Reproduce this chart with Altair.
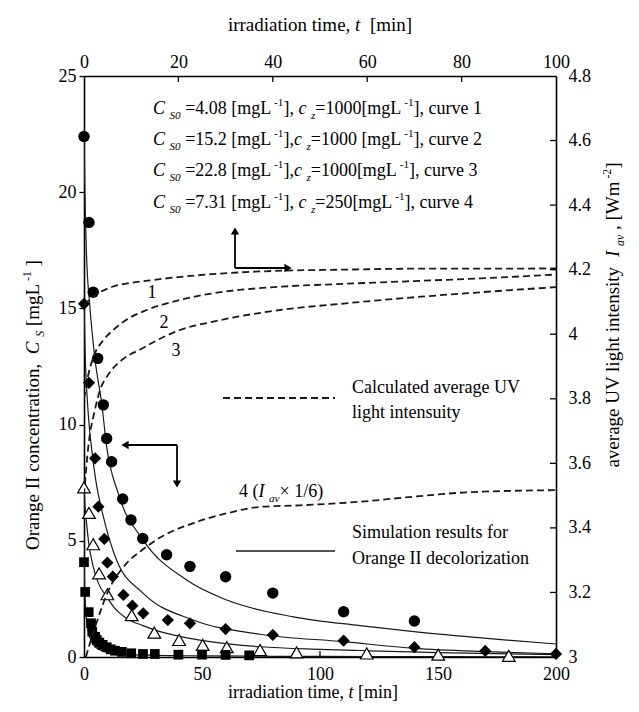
import altair as alt
import pandas as pd

FONT = "Liberation Serif"
W, H = 472, 581          # plot area
OX, OY = 84, 76          # page position of the plot origin

# ---------------- data ----------------
BOTTOM_TICKS = [0, 50, 100, 150, 200]
LEFT_TICKS = [0, 5, 10, 15, 20, 25]
TOP_TICKS = [0, 20, 40, 60, 80, 100]
RIGHT_TICKS = [3, 3.2, 3.4, 3.6, 3.8, 4, 4.2, 4.4, 4.6, 4.8]

# measured Orange II concentrations
circ_t = [0, 2.1, 3.9, 5.8, 8.2, 9.6, 11.7, 16.4, 19.9, 24.9, 35, 44.9, 60, 80, 110, 140]
circ_c = [22.4, 18.7, 15.7, 12.85, 10.85, 9.4, 8.4, 6.8, 5.9, 5.1, 4.4, 3.9, 3.45, 2.75, 1.95, 1.55]
diam_t = [0, 2.1, 4.7, 6.1, 8.6, 9.9, 12.2, 16.7, 20.5, 25.1, 35.5, 44.9, 60, 80, 110, 140, 170, 200]
diam_c = [15.2, 11.8, 8.55, 6.47, 5.08, 4.06, 3.46, 2.67, 2.21, 1.88, 1.59, 1.45, 1.2, 0.95, 0.70, 0.42, 0.26, 0.13]
tri_t = [0, 2.1, 3.9, 6.4, 9.9, 20.2, 29.8, 40.3, 50.3, 60.5, 74.6, 90.1, 119.8, 150.1, 180]
tri_c = [7.3, 6.2, 4.85, 3.6, 2.7, 1.8, 1.05, 0.73, 0.52, 0.42, 0.3, 0.2, 0.15, 0.1, 0.05]
sq_t = [0, 0.5, 2, 3, 3.5, 4.7, 5.4, 6.5, 7.9, 9.6, 11.3, 13.1, 16, 20, 25, 30, 40, 50, 60, 70]
sq_c = [4.08, 2.8, 1.93, 1.45, 1.09, 0.87, 0.73, 0.62, 0.52, 0.42, 0.33, 0.27, 0.22, 0.16, 0.13, 0.13, 0.10, 0.10, 0.09, 0.07]

# simulation curves (solid)
simc_t = [0, 0.3, 1, 2.5, 4.7, 7.5, 9.6, 14.5, 25.1, 43.5, 60.5, 88.7, 117, 139.8, 170.6, 200]
simc_c = [22.8, 20.5, 17.5, 15.07, 12.78, 10.92, 9.05, 7.04, 5.03, 3.31, 2.45, 1.73, 1.35, 1.09, 0.8, 0.56]
simd_t = [0, 0.5, 1, 2, 3.3, 5, 8.2, 13.8, 25.1, 46.3, 74.6, 110, 140, 170, 200]
simd_c = [15.2, 13.0, 11.8, 10.2, 8.9, 7.6, 6.04, 4.17, 2.74, 1.59, 0.98, 0.66, 0.37, 0.23, 0.14]
simt_t = [0, 0.4, 1.1, 2, 3.9, 6, 9.6, 13, 18.1, 25, 32.2, 40, 53.4, 74.6, 100, 117, 150, 200]
simt_c = [7.3, 6.5, 5.75, 4.9, 3.89, 3.2, 2.6, 2.1, 1.66, 1.35, 1.09, 0.9, 0.66, 0.44, 0.33, 0.28, 0.19, 0.1]
sims_t = [0, 0.3, 0.7, 1.2, 2, 3, 4, 6, 8, 11, 15, 20, 30, 50, 80, 120, 200]
sims_c = [4.08, 3.0, 2.1, 1.5, 1.0, 0.7, 0.52, 0.34, 0.25, 0.18, 0.13, 0.1, 0.07, 0.05, 0.03, 0.02, 0.01]

# calculated average UV light intensity (dashed, top / right axes)
c1_t = [0, 1, 3, 6, 9, 13, 20, 27, 40, 55, 70, 85, 100]
c1_v = [4.09, 4.105, 4.127, 4.147, 4.157, 4.165, 4.177, 4.186, 4.196, 4.200, 4.203, 4.203, 4.204]
c2_t = [0, 1, 2, 4, 6.2, 9, 13.3, 20, 27.4, 41.5, 55, 67, 84, 100]
c2_v = [3.80, 3.88, 3.93, 3.98, 4.013, 4.045, 4.075, 4.105, 4.127, 4.147, 4.156, 4.163, 4.173, 4.185]
c3_t = [0, 0.9, 2.3, 3.4, 5.1, 8, 12.2, 16, 20.3, 27.4, 41.5, 55, 67, 84, 100]
c3_v = [3.50, 3.65, 3.765, 3.827, 3.874, 3.92, 3.955, 3.985, 4.013, 4.039, 4.075, 4.095, 4.111, 4.13, 4.146]
c4_t = [0.4, 1, 2.3, 5, 9, 12.2, 16.1, 23.2, 30.2, 37.3, 45.8, 58.5, 70, 81, 100]
c4_v = [3.0, 3.03, 3.09, 3.2, 3.29, 3.33, 3.37, 3.415, 3.445, 3.465, 3.47, 3.481, 3.497, 3.51, 3.517]

# ---------------- text helpers (Times / Liberation Serif metrics) ----------------
REG = {' ': 250, '!': 333, '(': 333, ')': 333, ',': 250, '-': 333, '.': 250, '/': 278, '=': 564,
       '[': 333, ']': 333, '×': 564, 'A': 722, 'C': 667, 'I': 333, 'L': 611, 'O': 722, 'S': 556,
       'U': 722, 'V': 722, 'W': 944, 'a': 444, 'b': 500, 'c': 444, 'd': 500, 'e': 444, 'f': 333,
       'g': 500, 'h': 500, 'i': 278, 'j': 278, 'k': 500, 'l': 278, 'm': 778, 'n': 500, 'o': 500,
       'p': 500, 'q': 500, 'r': 333, 's': 389, 't': 278, 'u': 500, 'v': 500, 'w': 722, 'x': 500,
       'y': 500, 'z': 444}
ITA = {'C': 667, 'I': 333, 'S': 500, 'a': 500, 'c': 444, 't': 278, 'v': 444, 'z': 389}


def tw(s, italic=False):
    tot = 0
    for ch in s:
        if italic and ch in ITA:
            tot += ITA[ch]
        else:
            tot += REG.get(ch, 500)
    return tot / 1000.0


def seg_rows(x0, y0, fs, segs, angle=0, align='left'):
    items, total = [], 0.0
    for txt, kind in segs:
        size = fs * 0.62 if kind in ('sb', 'sp') else fs
        italic = kind in ('i', 'sb')
        items.append((txt, kind, size, italic, total))
        total += tw(txt, italic) * size
    start = -total / 2 if align == 'center' else 0.0
    rows = []
    for txt, kind, size, italic, off in items:
        lead = len(txt) - len(txt.lstrip(' '))
        off += tw(' ' * lead) * size
        txt = txt.strip(' ')
        if not txt:
            continue
        shift = 0.25 * fs if kind == 'sb' else (-0.42 * fs if kind == 'sp' else 0.0)
        a = start + off
        if angle == 0:
            px, py = x0 + a, y0 + shift
        else:
            px, py = x0 + shift, y0 - a
        rows.append(dict(x=px - OX, y=py - OY, text=txt, size=size, it=italic, angle=angle))
    return rows


def legend_line(val, sep, cz, curve):
    return [("C", 'i'), (" ", 'n'), ("S0", 'sb'), (" =" + val + " [mgL", 'n'), (" -1", 'sp'),
            ("]" + sep, 'n'), ("c", 'i'), (" ", 'n'), ("z", 'sb'), ("=" + cz + "[mgL", 'n'),
            (" -1", 'sp'), ("], curve " + curve, 'n')]


rows = []
rows += seg_rows(153, 114, 18, legend_line("4.08", ", ", "1000", "1"))
rows += seg_rows(153, 145, 18, legend_line("15.2", ",", "1000 ", "2"))
rows += seg_rows(153, 176, 18, legend_line("22.8", ",", "1000", "3"))
rows += seg_rows(153, 208, 18, legend_line("7.31", ", ", "250", "4"))
rows += seg_rows(152, 298, 18, [("1", 'n')], align='center')
rows += seg_rows(164, 328, 18, [("2", 'n')], align='center')
rows += seg_rows(176, 356, 18, [("3", 'n')], align='center')
rows += seg_rows(352, 393, 18, [("Calculated average UV", 'n')])
rows += seg_rows(352, 418, 18, [("light intensuity", 'n')])
rows += seg_rows(239, 497, 18, [("4 (", 'n'), ("I", 'i'), (" ", 'n'), ("av", 'sb'), ("× 1/6)", 'n')])
rows += seg_rows(352, 538, 18, [("Simulation results for", 'n')])
rows += seg_rows(352, 564, 18, [("Orange II decolorization", 'n')])
# axis titles
rows += seg_rows(320, 31, 19, [("irradiation time, ", 'n'), ("t", 'i'), ("  [min]", 'n')], align='center')
rows += seg_rows(313, 698, 18, [("irradiation time, ", 'n'), ("t", 'i'), (" [min]", 'n')], align='center')
rows += seg_rows(39, 405, 19, [("Orange II concentration,  ", 'n'), ("C", 'i'), (" ", 'n'), ("S", 'sb'),
                               (" [mgL", 'n'), (" -1", 'sp'), (" ]", 'n')], angle=270, align='center')
rows += seg_rows(619, 315, 19, [("average UV light intensity  ", 'n'), ("I", 'i'), (" ", 'n'), ("av", 'sb'),
                                (" , [Wm", 'n'), (" -2", 'sp'), ("]", 'n')], angle=270, align='center')
texts = pd.DataFrame(rows)

# arrows and legend samples (page pixels)
arrow_x = [235, 235, 177, 177]
arrow_y = [268, 268, 445, 445]
arrow_x2 = [235, 286, 127, 177]
arrow_y2 = [232, 268, 445, 482]
head_x = [235, 288, 125, 177]
head_y = [231, 268, 445, 484]
head_shape = ['triangle-up', 'triangle-right', 'triangle-left', 'triangle-down']

# ---------------- chart ----------------
X1 = alt.X('t:Q', scale=alt.Scale(domain=[0, 200], nice=False),
           axis=alt.Axis(orient='bottom', values=BOTTOM_TICKS, tickSize=0, labelPadding=8,
                         labelFlush=False, labelOverlap=False, title=None))
Y1 = alt.Y('c:Q', scale=alt.Scale(domain=[0, 25], nice=False),
           axis=alt.Axis(orient='left', values=LEFT_TICKS, tickSize=5, labelPadding=3,
                         labelFlush=False, labelOverlap=False, title=None))
X2 = alt.X('t:Q', scale=alt.Scale(domain=[0, 100], nice=False),
           axis=alt.Axis(orient='top', values=TOP_TICKS, tickSize=0, labelPadding=5,
                         labelFlush=False, labelOverlap=False, title=None))
Y2 = alt.Y('v:Q', scale=alt.Scale(domain=[3, 4.8], nice=False),
           axis=alt.Axis(orient='right', values=RIGHT_TICKS, tickSize=0, labelPadding=12, format='~g',
                         labelFlush=False, labelOverlap=False, title=None))


def dfc(t, c):
    return pd.DataFrame({'t': t, 'c': c})


def dfv(t, v):
    return pd.DataFrame({'t': t, 'v': v})


sim_layers = [alt.Chart(dfc(t, c)).mark_line(interpolate='monotone', color='#1a1a1a', strokeWidth=1.2, clip=True)
              .encode(x=X1, y=Y1)
              for t, c in [(simc_t, simc_c), (simd_t, simd_c), (simt_t, simt_c), (sims_t, sims_c)]]
bottom_ticks = alt.Chart(pd.DataFrame({'t': BOTTOM_TICKS[1:-1]})).mark_rule(color='black', strokeWidth=1.3).encode(
    x=X1, y=alt.value(H), y2=alt.value(H - 6))
pts = [
    alt.Chart(dfc(circ_t, circ_c)).mark_point(shape='circle', filled=True, color='black', size=130, opacity=1).encode(x=X1, y=Y1),
    alt.Chart(dfc(diam_t, diam_c)).mark_point(shape='diamond', filled=True, color='black', size=150, opacity=1).encode(x=X1, y=Y1),
    alt.Chart(dfc(tri_t, tri_c)).mark_point(shape='triangle-up', filled=True, fill='white', stroke='black',
                                             strokeWidth=1.2, size=160, opacity=1).encode(x=X1, y=Y1),
    alt.Chart(dfc(sq_t, sq_c)).mark_point(shape='square', filled=True, color='black', size=95, opacity=1).encode(x=X1, y=Y1),
]
L1 = alt.layer(*sim_layers, bottom_ticks, *pts)

dash_layers = [alt.Chart(dfv(t, v)).mark_line(interpolate='monotone', color='#1a1a1a', strokeWidth=1.8,
                                              strokeDash=[7, 4], clip=True).encode(x=X2, y=Y2)
               for t, v in [(c1_t, c1_v), (c2_t, c2_v), (c3_t, c3_v), (c4_t, c4_v)]]
top_ticks = alt.Chart(pd.DataFrame({'t': TOP_TICKS[1:-1]})).mark_rule(color='black', strokeWidth=1.3).encode(
    x=X2, y=alt.value(0), y2=alt.value(6))
right_ticks = alt.Chart(pd.DataFrame({'v': RIGHT_TICKS[1:-1]})).mark_rule(color='black', strokeWidth=1.3).encode(
    y=Y2, x=alt.value(W - 6), x2=alt.value(W))
L2 = alt.layer(*dash_layers, top_ticks, right_ticks)

PX = lambda f: alt.X(f, type='quantitative', scale=None, axis=None)
PY = lambda f: alt.Y(f, type='quantitative', scale=None, axis=None)

arrows = pd.DataFrame({'x': [v - OX for v in arrow_x], 'y': [v - OY for v in arrow_y],
                       'x2': [v - OX for v in arrow_x2], 'y2': [v - OY for v in arrow_y2]})
heads = pd.DataFrame({'x': [v - OX for v in head_x], 'y': [v - OY for v in head_y], 'shape': head_shape})
samples = pd.DataFrame({'x': [223 - OX, 236 - OX], 'x2': [335 - OX, 335 - OX], 'y': [398 - OY, 551 - OY],
                        'kind': ['dash', 'solid']})

arrow_rules = alt.Chart(arrows).mark_rule(color='black', strokeWidth=1.8).encode(
    x=PX('x'), y=PY('y'), x2=alt.X2('x2'), y2=alt.Y2('y2'))
arrow_heads = alt.Chart(heads).mark_point(filled=True, color='black', size=70, opacity=1).encode(
    x=PX('x'), y=PY('y'), shape=alt.Shape('shape:N', scale=None, legend=None))
dash_sample = alt.Chart(samples[samples.kind == 'dash']).mark_rule(color='#1a1a1a', strokeWidth=1.8, strokeDash=[7, 4]).encode(
    x=PX('x'), x2=alt.X2('x2'), y=PY('y'))
solid_sample = alt.Chart(samples[samples.kind == 'solid']).mark_rule(color='#1a1a1a', strokeWidth=1.3).encode(
    x=PX('x'), x2=alt.X2('x2'), y=PY('y'))


def text_layer(italic):
    return alt.Chart(texts[texts.it == italic]).mark_text(
        align='left', baseline='alphabetic', font=FONT, color='black',
        fontStyle='italic' if italic else 'normal').encode(
        x=PX('x'), y=PY('y'), text='text:N',
        size=alt.Size('size:Q', scale=None, legend=None),
        angle=alt.Angle('angle:Q', scale=None))


L3 = alt.layer(arrow_rules, arrow_heads, dash_sample, solid_sample, text_layer(False), text_layer(True))

chart = alt.layer(L1, L2, L3).resolve_scale(x='independent', y='independent').properties(
    width=W, height=H,
    autosize=alt.AutoSizeParams(type='none'),
    padding={'left': OX - 8, 'top': OY - 8, 'right': 639 - 16 - (OX - 8) - W, 'bottom': 712 - 16 - (OY - 8) - H},
).configure_view(stroke=None).configure_axis(
    labelFont=FONT, labelFontSize=18, labelColor='black', domainColor='black', domainWidth=1.6,
    tickColor='black', tickWidth=1.3, grid=False)

chart.save("out.html", embed_options={"renderer": "svg", "actions": False})
